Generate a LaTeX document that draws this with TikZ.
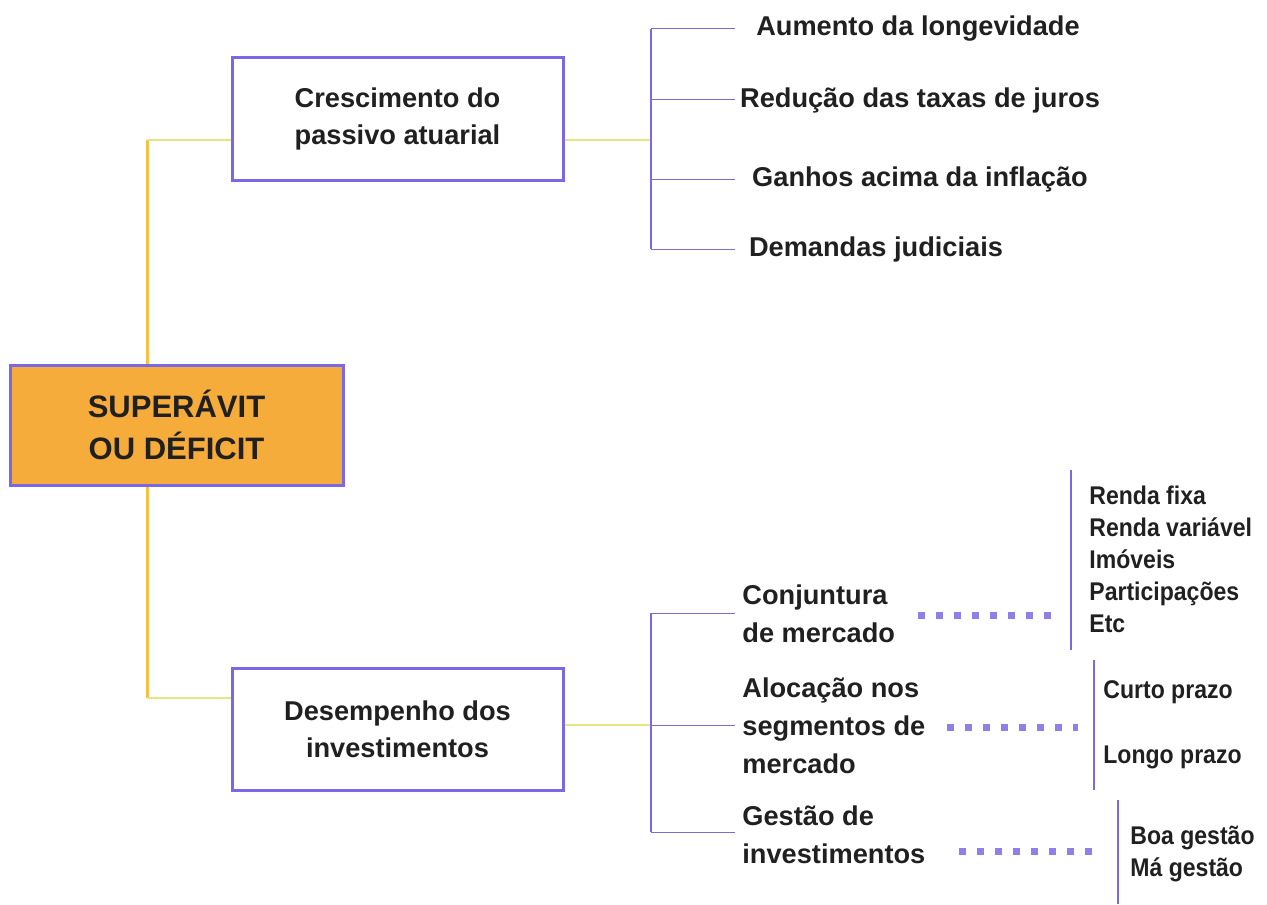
\documentclass[tikz,border=0pt]{standalone}
\usepackage{fontspec}
\setmainfont{Liberation Sans}
\newfontfamily\narrowsans[FakeStretch=0.9]{Liberation Sans}
\definecolor{boxpurple}{RGB}{122,104,230}
\definecolor{rootorange}{RGB}{246,172,58}
\definecolor{trunkorange}{RGB}{247,190,72}
\definecolor{twigyellow}{RGB}{228,230,130}
\definecolor{inkgrey}{RGB}{32,32,32}
\tikzset{
    topic/.style={draw=boxpurple, line width=1.5pt, fill=white, minimum width=165.5pt, minimum height=61pt, align=center, text=inkgrey, font=\bfseries\fontsize{13.6}{18.5}\selectfont},
    rootbox/.style={topic, fill=rootorange, minimum width=166.5pt, minimum height=60pt, font=\bfseries\fontsize{15.5}{21}\selectfont},
    leaf/.style={text=inkgrey, inner sep=0pt, font=\bfseries\fontsize{13.6}{19}\selectfont},
    item/.style={text=inkgrey, inner sep=0pt, anchor=west, align=left, font=\narrowsans\bfseries\fontsize{12.8}{16}\selectfont},
    trunk/.style={trunkorange, line width=1.5pt},
    twig/.style={twigyellow, line width=0.6pt},
    spine/.style={boxpurple, line width=1.3pt},
    branch/.style={boxpurple!75!gray, line width=0.5pt},
    dotline/.style={boxpurple!85, line width=3.5pt, dash pattern=on 3.5pt off 5.5pt},
}

\begin{document}
\begin{tikzpicture}[x=0.5pt, y=-0.5pt]
        \useasboundingbox (0,0) rectangle (1267,904);

        \node[rootbox] (root) at (176.5,425) {SUPERÁVIT\\OU DÉFICIT};
        \node[topic] (passivo) at (397.5,119) {Crescimento do\\passivo atuarial};
        \node[topic] (desemp) at (397.5,729) {Desempenho dos\\investimentos};

        \coordinate (tj1) at (147,140);
        \coordinate (tj2) at (147,698);
        \draw[trunk] (root.north -| tj1) -- (tj1);
        \draw[trunk] (root.south -| tj2) -- (tj2);
        \draw[twig] (tj1) -- (passivo.west |- tj1);
        \draw[twig] (tj2) -- (desemp.west |- tj2);

        \node[leaf] (aum) at (918,29) {Aumento da longevidade};
        \node[leaf] (red) at (920,100) {Redução das taxas de juros};
        \node[leaf] (gan) at (920,179) {Ganhos acima da inflação};
        \node[leaf] (dem) at (876,249) {Demandas judiciais};

        \coordinate (b1) at (651,140);
        \coordinate (e1) at (735,0);
        \draw[twig] (passivo.east |- b1) -- (b1);
        \draw[spine] (b1 |- aum) -- (b1 |- dem);
        \draw[branch] (b1 |- aum) -- (e1 |- aum);
        \draw[branch] (b1 |- red) -- (e1 |- red);
        \draw[branch] (b1 |- gan) -- (e1 |- gan);
        \draw[branch] (b1 |- dem) -- (e1 |- dem);

        \node[leaf, anchor=west, align=left] (conj) at (742,614) {Conjuntura\\de mercado};
        \node[leaf, anchor=west, align=left] (aloc) at (742,726) {Alocação nos\\segmentos de\\mercado};
        \node[leaf, anchor=west, align=left] (gest) at (742,835) {Gestão de\\investimentos};

        \coordinate (b2) at (651,725);
        \coordinate (e2) at (735,0);
        \draw[twig] (desemp.east |- b2) -- (b2);
        \draw[spine] (b2 |- 0,613) -- (b2 |- 0,832);
        \draw[branch] (b2 |- 0,613) -- (e2 |- 0,613);
        \draw[branch] (b2) -- (e2 |- b2);
        \draw[branch] (b2 |- 0,832) -- (e2 |- 0,832);

        \node[item] (segs) at (1089,559) {Renda fixa\\Renda variável\\Imóveis\\Participações\\Etc};
        \node[item] (curto) at (1103,692) {Curto prazo};
        \node[item] (longo) at (1103,757) {Longo prazo};
        \node[item] (gestoes) at (1130,854) {Boa gestão\\Má gestão};

        \coordinate (v1) at (1071,470);
        \coordinate (v2) at (1094,660);
        \coordinate (v3) at (1118,800);
        \draw[spine, line width=1pt] (v1) -- (1071,650);
        \draw[spine, line width=1pt] (v2) -- (1094,790);
        \draw[spine, line width=1pt] (v3) -- (1118,904);

        \coordinate (d1) at (918,615);
        \coordinate (d2) at (947,727);
        \coordinate (d3) at (959,851);
        \draw[dotline, shorten >=10pt] (d1) -- (d1 -| v1);
        \draw[dotline, shorten >=8pt] (d2) -- (d2 -| v2);
        \draw[dotline, shorten >=10pt] (d3) -- (d3 -| v3);

\end{tikzpicture}
\end{document}
